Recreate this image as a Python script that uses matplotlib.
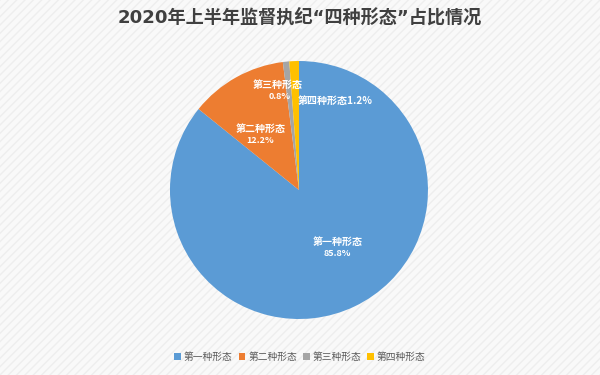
import matplotlib
matplotlib.use("Agg")
import matplotlib.pyplot as plt
from matplotlib.patches import Rectangle

plt.rcParams['font.family'] = ['Noto Sans CJK SC', 'DejaVu Sans']

title = "2020年上半年监督执纪“四种形态”占比情况"
categories = ["第一种形态", "第二种形态", "第三种形态", "第四种形态"]
shares = [85.8, 12.2, 0.8, 1.2]
colors = ["#5B9BD5", "#ED7D31", "#A5A5A5", "#FFC000"]

fig = plt.figure(figsize=(6, 3.75), dpi=100)
fig.patch.set_facecolor("#f9f9f9")
# light diagonal texture of the background
fig.patches.append(Rectangle((0, 0), 1, 1, transform=fig.transFigure,
                             facecolor="none", edgecolor="#eeeeee",
                             hatch="////", linewidth=0, zorder=-1))

ax = fig.add_axes([0.2833, 0.1493, 0.43, 0.688])
wedges, _ = ax.pie(shares, colors=colors, startangle=90, counterclock=False,
                   radius=1.0, wedgeprops=dict(linewidth=0))
ax.set_xlim(-1, 1)
ax.set_ylim(-1, 1)
ax.set_aspect("equal")
ax.axis("off")

lab_kw = dict(color="white", ha="center", va="center", fontweight="bold")
# label positions in pie radius units
ax.text(0.30, -0.40, categories[0], fontsize=7.2, **lab_kw)
ax.text(0.30, -0.49, f"{shares[0]}%", fontsize=6.5, **lab_kw)
ax.text(-0.30, 0.47, categories[1], fontsize=7.2, **lab_kw)
ax.text(-0.30, 0.38, f"{shares[1]}%", fontsize=6.5, **lab_kw)
ax.text(-0.165, 0.815, categories[2], fontsize=7.2, **lab_kw)
ax.text(-0.15, 0.725, f"{shares[2]}%", fontsize=6.5, **lab_kw)
ax.text(-0.01, 0.69, categories[3] + f"{shares[3]}%", fontsize=7.2,
        color="white", ha="left", va="center", fontweight="bold")

# narrow quotes as in the reference: DejaVu first, CJK glyphs fall back
fig.text(0.5, 0.955, title, ha="center", va="center", fontsize=13.1,
         fontweight="bold", color="#404040",
         family=["DejaVu Sans", "Noto Sans CJK SC"])

fig.legend(wedges, categories, loc="center", bbox_to_anchor=(0.5, 0.048),
           ncol=4, frameon=False, fontsize=7, handlelength=0.7,
           handleheight=0.7, handletextpad=0.3, columnspacing=0.6,
           labelcolor="#595959")

fig.savefig("out.png", dpi=100, facecolor=fig.get_facecolor())
